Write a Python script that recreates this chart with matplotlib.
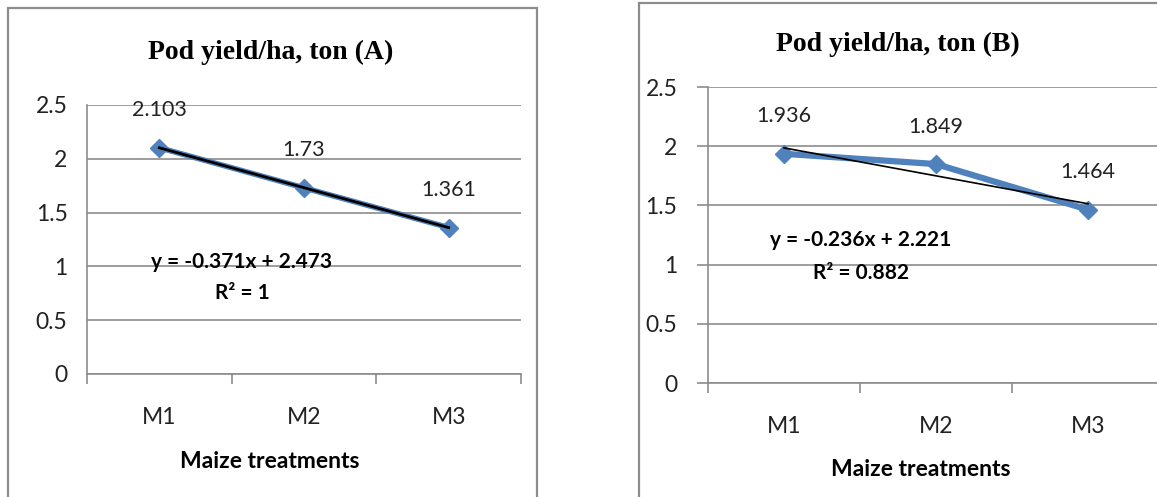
import matplotlib
matplotlib.use("Agg")
import matplotlib.pyplot as plt
from matplotlib.patches import Rectangle
import numpy as np

# data
treatments = ["M1", "M2", "M3"]
yield_a = [2.103, 1.73, 1.361]
yield_b = [1.936, 1.849, 1.464]
labels_a = ["2.103", "1.73", "1.361"]
labels_b = ["1.936", "1.849", "1.464"]
eq_a = ["y = -0.371x + 2.473", "R² = 1"]
eq_b = ["y = -0.236x + 2.221", "R² = 0.882"]
yticks = [0, 0.5, 1, 1.5, 2, 2.5]
ytick_labels = ["0", "0.5", "1", "1.5", "2", "2.5"]

W, H = 1157, 497
BLUE = "#4f81bd"
GRID = "#8c8c8c"
SANS = ["Lato", "DejaVu Sans"]
SERIF = ["Liberation Serif", "DejaVu Serif"]

fig = plt.figure(figsize=(W / 100, H / 100), dpi=100)
fig.patch.set_facecolor("white")


def fx(px):
    return px / W


def fy(py):
    return 1 - py / H


# outer chart frames (they run off the bottom / right of the image)
fig.patches.append(Rectangle((fx(8), fy(520)), fx(537 - 8), fy(8) - fy(520),
                             transform=fig.transFigure, fill=False,
                             edgecolor=GRID, lw=1.6))
fig.patches.append(Rectangle((fx(639), fy(520)), fx(1200 - 639), fy(3) - fy(520),
                             transform=fig.transFigure, fill=False,
                             edgecolor=GRID, lw=1.6))


def make_panel(box, values, vlabels, eq, eq_pos, title, title_pos, xlabel_pos,
               ytick_out, line_w, trend_w):
    x0, x1, ytop, ybot = box
    ax = fig.add_axes([fx(x0), fy(ybot), fx(x1 - x0), fy(ytop) - fy(ybot)])
    ax.set_facecolor("none")
    x = np.arange(1, len(values) + 1)

    ax.set_xlim(0.5, len(values) + 0.5)
    ax.set_ylim(0, 2.5)
    ax.set_yticks(yticks)
    ax.set_yticklabels(ytick_labels, family=SANS, fontsize=16.5, color="#222222")
    ax.set_xticks(x)
    ax.set_xticklabels(treatments, family=SANS, fontsize=16.5, color="#222222")
    ax.set_xticks(np.arange(0.5, len(values) + 1), minor=True)
    ax.tick_params(axis="x", which="major", length=0, pad=24)
    ax.tick_params(axis="x", which="minor", length=7, width=1.2, color=GRID)
    ax.tick_params(axis="y", length=ytick_out, width=1.2, color=GRID, pad=14)
    ax.yaxis.grid(True, color=GRID, lw=1.2)
    ax.set_axisbelow(True)
    for s in ["top", "right"]:
        ax.spines[s].set_visible(False)
    for s in ["left", "bottom"]:
        ax.spines[s].set_color(GRID)
        ax.spines[s].set_linewidth(1.2)

    ax.plot(x, values, color=BLUE, lw=line_w, marker="D", ms=9,
            clip_on=False, zorder=3)
    coef = np.polyfit(x, values, 1)
    ax.plot(x, np.polyval(coef, x), color="black", lw=trend_w, zorder=4)

    for xi, v, lab in zip(x, values, vlabels):
        ax.annotate(lab, (xi, v), xytext=(0, 27), textcoords="offset points",
                    ha="center", va="center", family=SANS, fontsize=15.5,
                    color="#222222")

    fig.text(fx(eq_pos[0]), fy(eq_pos[1]), eq[0], ha="center", va="center",
             family=SANS, fontsize=15, fontweight="bold")
    fig.text(fx(eq_pos[0]), fy(eq_pos[2]), eq[1], ha="center", va="center",
             family=SANS, fontsize=15, fontweight="bold")
    fig.text(fx(title_pos[0]), fy(title_pos[1]), title, ha="center", va="center",
             family=SERIF, fontsize=20, fontweight="bold")
    fig.text(fx(xlabel_pos[0]), fy(xlabel_pos[1]), "Maize treatments",
             ha="center", va="center", family=SANS, fontsize=16.5,
             fontweight="bold")
    return ax


make_panel((87, 521, 105, 374), yield_a, labels_a, eq_a, (242, 262, 293),
           "Pod yield/ha, ton (A)", (271, 52), (270, 462), 0, 4.0, 2.0)
make_panel((708, 1164, 87, 383), yield_b, labels_b, eq_b, (861, 240, 273),
           "Pod yield/ha, ton (B)", (898, 44), (921, 470), 8, 4.5, 1.2)

fig.savefig("out.png", dpi=100, facecolor="white")
